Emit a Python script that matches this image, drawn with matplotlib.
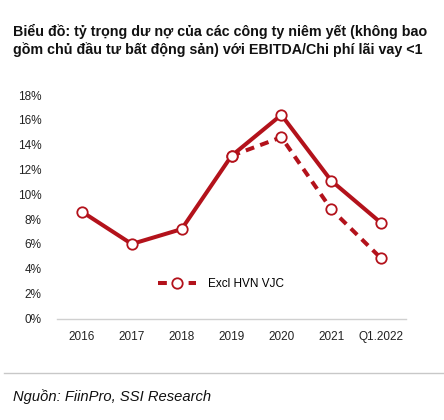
import matplotlib
matplotlib.use("Agg")
import matplotlib.pyplot as plt
from matplotlib import font_manager as fm

categories = ["2016", "2017", "2018", "2019", "2020", "2021", "Q1.2022"]
total_values = [8.6, 6.0, 7.2, 13.1, 16.4, 11.1, 7.7]
excl_values = [None, None, None, 13.1, 14.6, 8.8, 4.85]
excl_label = "Excl HVN VJC"
y_ticks = [0, 2, 4, 6, 8, 10, 12, 14, 16, 18]
title = "Biểu đồ: tỷ trọng dư nợ của các công ty niêm yết (không bao\ngồm chủ đầu tư bất động sản) với EBITDA/Chi phí lãi vay <1"
source = "Nguồn: FiinPro, SSI Research"

names = {f.name for f in fm.fontManager.ttflist}
narrow = "Liberation Sans Narrow" if "Liberation Sans Narrow" in names else "Liberation Sans"
plt.rcParams['font.family'] = [narrow, 'DejaVu Sans']

RED = "#B3121B"
fig = plt.figure(figsize=(4.44, 4.2), dpi=100)
ax = fig.add_axes([57/444, 1 - 318.5/420, (406-57)/444, (318.5-95)/420])

x = list(range(len(categories)))
ex_x = [i for i, v in zip(x, excl_values) if v is not None]
ex_y = [v for v in excl_values if v is not None]
ax.plot(ex_x, ex_y, color=RED, lw=2.9, ls=(0, (2.2, 1.6)), marker='o', ms=7.5,
        mfc='white', mec=RED, mew=1.3, label=excl_label, zorder=3)
ax.plot(x, total_values, color=RED, lw=2.9, marker='o', ms=7.5,
        mfc='white', mec=RED, mew=1.3, zorder=4)

ax.set_xlim(-0.5, len(categories) - 0.5)
ax.set_ylim(0, 18)
ax.set_yticks(y_ticks)
ax.set_yticklabels([f"{t}%" for t in y_ticks])
ax.set_xticks(x)
ax.set_xticklabels(categories)
for s in ['top', 'right', 'left']:
    ax.spines[s].set_visible(False)
ax.spines['bottom'].set_color('#d0d0d0')
ax.spines['bottom'].set_linewidth(1.0)
ax.tick_params(axis='both', length=0, labelsize=8.5, colors='#222222')
ax.tick_params(axis='x', pad=9)
ax.tick_params(axis='y', pad=11)

leg = ax.legend(loc='upper left', bbox_to_anchor=(0.26, 0.228), frameon=False,
                fontsize=8.5, handlelength=3.2, handletextpad=1.0)

fig.text(13/444, 1 - 24/420, title, fontsize=10.3, fontweight='bold',
         va='top', ha='left', linespacing=1.3, color='#111111')
fig.add_artist(plt.Line2D([4/444, 1], [1 - 372.5/420] * 2, color='#c8c8c8', lw=1.0,
                          transform=fig.transFigure))
fig.text(13/444, 1 - 397/420, source, fontsize=10.6, style='italic',
         va='center', ha='left', color='#111111')

fig.savefig("out.png", dpi=100, facecolor='white')
